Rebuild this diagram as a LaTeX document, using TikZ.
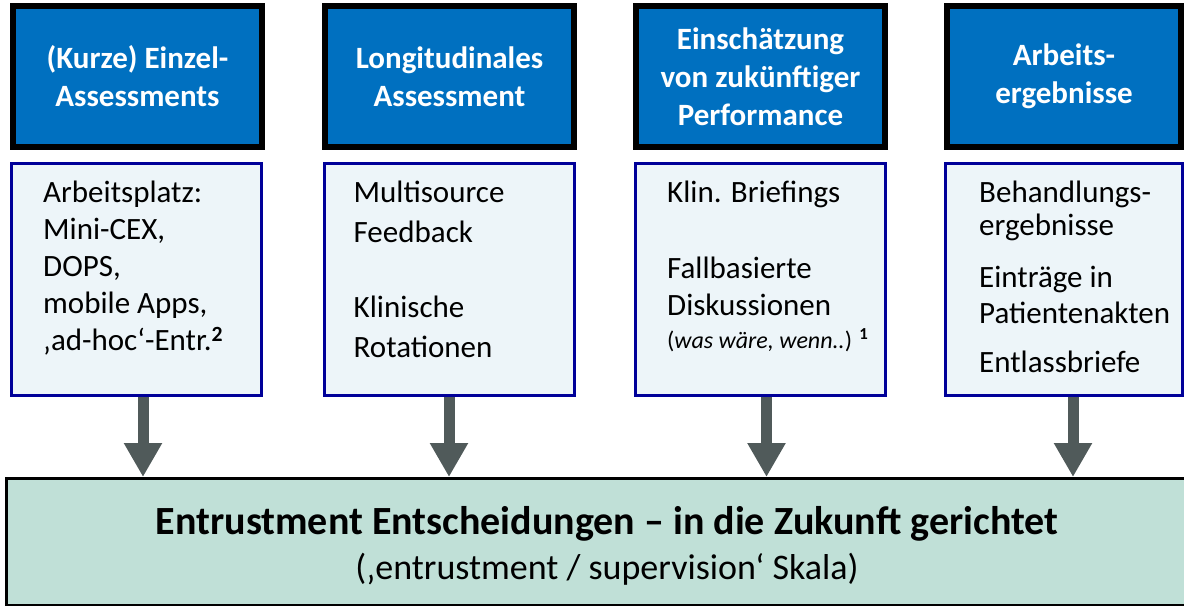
\documentclass[tikz,border=0pt]{standalone}
\usepackage{fontspec}
\setmainfont{Carlito}
\usepackage{tikz}
\usetikzlibrary{arrows.meta}
\usepackage{xcolor}
\definecolor{headblue}{RGB}{0,112,192}
\definecolor{itemnavy}{RGB}{0,0,153}
\definecolor{itemfill}{RGB}{237,245,249}
\definecolor{arrowgray}{RGB}{80,90,90}
\definecolor{entmint}{RGB}{192,224,215}
\tikzstyle{headbox} = [draw=black,line width=6pt,fill=headblue,text=white,align=center,inner sep=0pt,minimum width=249pt,minimum height=141pt,font=\bfseries\fontsize{31}{38}\selectfont]
\tikzstyle{itembox} = [draw=itemnavy,line width=3pt,fill=itemfill,inner sep=0pt,minimum width=250pt,minimum height=232pt]
\tikzstyle{itemtext} = [anchor=north west,inner sep=0pt,align=left,font=\fontsize{31}{37}\selectfont]
\tikzstyle{flowarrow} = [line width=11pt,color=arrowgray,-{Triangle[width=36pt,length=34pt]}]

\begin{document}
\begin{tikzpicture}[x=1pt, y=-1pt]
\useasboundingbox (0,0) rectangle (1184,607);
% Four kinds of assessment
\node[headbox] (head1) at (137.5,76.5) {(Kurze) Einzel-\\Assessments};
\node[headbox] (head2) at (449.5,76.5) {Longitudinales\\Assessment};
\node[headbox] (head3) at (760.5,76.5) {Einschätzung\\von zukünftiger\\Performance};
\node[headbox, minimum width=234pt] (head4) at (1064,76.5) {Arbeits-\\ergebnisse};

% Examples below
\node[itembox] (low1) at (136.5,279.5) {};
\node[itembox] (low2) at (449,279.5) {};
\node[itembox] (low3) at (760.5,279.5) {};
\node[itembox, minimum width=237pt] (low4) at (1064,279.5) {};

\node[itemtext] (txt1) at ([xshift=33pt,yshift=-14pt]low1.north west)
  {\rule{0pt}{26pt}Arbeitsplatz:\\Mini-CEX,\\DOPS,\\mobile Apps,\\‚ad-hoc‘-Entr.\textsuperscript{\textbf{2}}};
\node[itemtext, font=\fontsize{31}{40}\selectfont] (txt2) at ([xshift=31pt,yshift=-14pt]low2.north west)
  {\rule{0pt}{26pt}Multisource\\Feedback\\[35pt]Klinische\\Rotationen};
\node[itemtext] (txt3) at ([xshift=33pt,yshift=-14pt]low3.north west)
  {\rule{0pt}{26pt}Klin. Briefings\\[39pt]Fallbasierte\\Diskussionen\\[-4pt]{\fontsize{24}{28}\selectfont (\textit{was wäre, wenn..}) \textsuperscript{\textbf{1}}}};
\node[itemtext] (txt4) at ([xshift=35pt,yshift=-14pt]low4.north west)
  {\rule{0pt}{26pt}Behandlungs-\\[-4pt]ergebnisse\\[15pt]Einträge in\\[-1pt]Patientenakten\\[12pt]Entlassbriefe};

% Result
\node[draw=black, line width=2.5pt, fill=entmint, inner sep=0pt, align=center,
  minimum width=1201.5pt, minimum height=126.5pt, font=\fontsize{36}{45}\selectfont] (ent) at (607,541.5)
  {\rule{0pt}{37pt}{\bfseries\fontsize{40}{45}\selectfont Entrustment Entscheidungen -- in die Zukunft gerichtet}\\(‚entrustment / supervision‘ Skala)};

% Arrows
\draw[flowarrow] ([xshift=6.5pt]low1.south) -- ([xshift=6.5pt]low1.south |- ent.north);
\draw[flowarrow] (low2.south) -- (low2.south |- ent.north);
\draw[flowarrow] ([xshift=6pt]low3.south) -- ([xshift=6pt]low3.south |- ent.north);
\draw[flowarrow] ([xshift=9pt]low4.south) -- ([xshift=9pt]low4.south |- ent.north);
\end{tikzpicture}
\end{document}
